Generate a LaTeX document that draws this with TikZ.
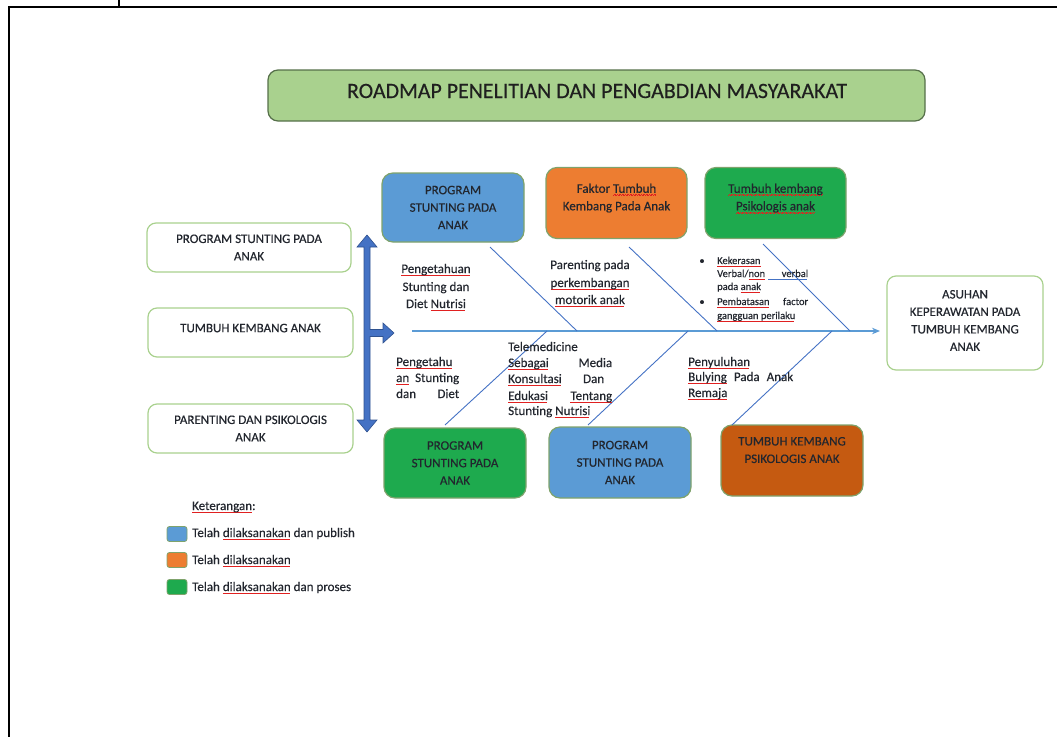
\documentclass[tikz,border=0pt]{standalone}
\usepackage{fontspec}
\setmainfont{Carlito}[FakeBold=0.35]
\usetikzlibrary{arrows.meta}
\definecolor{boxblue}{HTML}{5B9BD5}
\definecolor{boxorange}{HTML}{ED7D31}
\definecolor{boxgreen}{HTML}{1EAA4E}
\definecolor{boxbrown}{HTML}{C55A11}
\definecolor{titlegreen}{HTML}{A9D18E}
\definecolor{titleedge}{HTML}{56704A}
\definecolor{lightedge}{HTML}{A9D18E}
\definecolor{coloredge}{HTML}{7FA36C}
\definecolor{arrowblue}{HTML}{4472C4}
\definecolor{arrowedge}{HTML}{2F528F}
\definecolor{spineblue}{HTML}{5B9BD5}
\definecolor{txt}{HTML}{22262E}
\definecolor{sqred}{HTML}{E02020}
\definecolor{gblue}{HTML}{4472C4}
\newcommand\sqwave{\hbox{\rule{0.8pt}{0.5pt}\raisebox{0.8pt}{\rule{0.8pt}{0.5pt}}}}
\newcommand\sq[1]{\setbox0\hbox{#1}\leavevmode\rlap{\raisebox{-2.8pt}{\color{sqred}\hbox to\wd0{\leaders\sqwave\hfill}}}\box0\relax}
\tikzset{
  lbox/.style={draw=lightedge, line width=1.2pt, rounded corners=9pt, fill=white, align=center, text=txt, font=\fontsize{13}{17.5}\selectfont},
  cbox/.style={draw=coloredge, line width=1.2pt, rounded corners=11pt, align=center, text=txt, font=\fontsize{13}{17.5}\selectfont},
  bone/.style={draw=arrowblue, line width=0.9pt},
  spine/.style={draw=spineblue, line width=1.6pt},
  body/.style={text=txt, font=\fontsize{13}{16}\selectfont, inner sep=0pt},
  small/.style={text=txt, font=\fontsize{10.5}{14}\selectfont, inner sep=0pt},
  legsq/.style={draw=coloredge, line width=0.8pt, rounded corners=2.5pt, minimum width=20pt, minimum height=15pt, inner sep=0pt},
}
\begin{document}
\begin{tikzpicture}[x=1pt,y=-1pt]
\useasboundingbox (0,0) rectangle (1057,736);
% page frame
\draw[line width=2pt] (9,745) -- (9,7) -- (1065,7);
\draw[line width=2pt] (119,0) -- (119,7);

% title
\node[draw=titleedge, line width=1.2pt, fill=titlegreen, rounded corners=10pt, minimum width=657pt, minimum height=51pt] (titlebox) at (596.5,95.5) {};
\node[text=black!88, font=\fontsize{21.9}{26}\selectfont, inner sep=0pt] (title) at (597,91) {ROADMAP PENELITIAN DAN PENGABDIAN MASYARAKAT};

% left boxes
\node[lbox, minimum width=204pt, minimum height=49pt] (l1) at (249,247.5) {PROGRAM STUNTING PADA\\ANAK};
\node[lbox, minimum width=205pt, minimum height=49pt] (l2) at (250.5,332.5) {TUMBUH KEMBANG ANAK\\[-8.5pt]\mbox{}};
\node[lbox, minimum width=205pt, minimum height=49pt] (l3) at (250.5,428.5) {PARENTING DAN PSIKOLOGIS\\ANAK};

% double arrow with branch
\path[fill=arrowblue, draw=arrowedge, line width=0.6pt] (367,235) -- (377,247) -- (370,247) -- (370,329.5) -- (383,329.5) -- (383,323) -- (394,333) -- (383,343) -- (383,336.5) -- (370,336.5) -- (370,420) -- (377,420) -- (367,432) -- (357,420) -- (364,420) -- (364,247) -- (357,247) -- cycle;

% top boxes
\node[cbox, fill=boxblue, minimum width=142pt, minimum height=69pt] (t1) at (453,207.5) {PROGRAM\\STUNTING PADA\\ANAK};
\node[cbox, fill=boxorange, minimum width=141pt, minimum height=71pt] (t2) at (616.5,203) {Faktor \sq{Tumbuh}\\Kembang Pada Anak\\[-5.5pt]\mbox{}};
\node[cbox, fill=boxgreen, minimum width=141pt, minimum height=71pt] (t3) at (775.5,203) {\sq{Tumbuh kembang}\\\sq{Psikologis anak}\\[-5.5pt]\mbox{}};

% bottom boxes
\node[cbox, fill=boxgreen, minimum width=142pt, minimum height=70pt] (b1) at (455,463) {PROGRAM\\STUNTING PADA\\ANAK};
\node[cbox, fill=boxblue, minimum width=142pt, minimum height=71pt] (b2) at (620,462.5) {PROGRAM\\STUNTING PADA\\ANAK};
\node[cbox, fill=boxbrown, minimum width=142pt, minimum height=71pt] (b3) at (792,460.5) {TUMBUH KEMBANG\\PSIKOLOGIS ANAK\\[3.5pt]\mbox{}};

% right box
\node[lbox, minimum width=156pt, minimum height=94pt] (goal) at (965,323) {ASUHAN\\KEPERAWATAN PADA\\TUMBUH KEMBANG\\ANAK\\[-12.5pt]\mbox{}};

% spine
\coordinate (spL) at (412,331);
\coordinate (spR) at (880,331);
\draw[spine, -{Stealth[length=8pt,width=6.5pt]}] (spL) -- (spR);

% bones
\coordinate (t1a) at (490,247); \coordinate (t1b) at (577,331);
\coordinate (t2a) at (629,247); \coordinate (t2b) at (717,331);
\coordinate (t3a) at (763,244); \coordinate (t3b) at (850,331);
\coordinate (b1a) at (445,425); \coordinate (b1b) at (547,331);
\coordinate (b2a) at (588,425); \coordinate (b2b) at (688,331);
\coordinate (b3a) at (732,425); \coordinate (b3b) at (832,331);
\draw[bone] (t1a) -- (t1b);
\draw[bone] (t2a) -- (t2b);
\draw[bone] (t3a) -- (t3b);
\draw[bone] (b1a) -- (b1b);
\draw[bone] (b2a) -- (b2b);
\draw[bone] (b3a) -- (b3b);

% text: Pengetahuan block
\node[body, anchor=base] (p1) at (436,273) {\sq{Pengetahuan}};
\node[body, anchor=base] (p2) at (436,291) {Stunting dan};
\node[body, anchor=base] (p3) at (436,308) {Diet \sq{Nutrisi}};

% text: Parenting block
\node[body, anchor=base] (q1) at (590,269) {Parenting pada};
\node[body, anchor=base] (q2) at (590,287) {\sq{perkembangan}};
\node[body, anchor=base] (q3) at (590,304) {\sq{motorik anak}};

% text: bullet block
\node[small, anchor=base] (bu1) at (702,264) {•};
\node[small, anchor=base] (bu2) at (702,305) {•};
\node[small, anchor=base west] (k1) at (717,264) {\sq{Kekerasan}};
\node[small, anchor=base west] (k2) at (717,277) {\hbox to 91pt{Verbal/\sq{non}\hfill verbal}};
\node[small, anchor=base west] (k3) at (717,290) {pada \sq{anak}};
\node[small, anchor=base west] (k4) at (717,305) {\hbox to 91pt{\sq{Pembatasan}\hfill factor}};
\node[small, anchor=base west] (k5) at (717,319) {\sq{gangguan perilaku}};
\coordinate (gq1) at (768,279.5);
\coordinate (gq2) at (807,279.5);
\draw[gblue, line width=1pt] (gq1) -- (gq2);

% text: Pengetahu block
\node[body, anchor=base west] (r1) at (396,366) {\sq{Pengetahu}};
\node[body, anchor=base west] (r2) at (396,382) {\hbox to 63pt{\sq{an}\hfill Stunting}};
\node[body, anchor=base west] (r3) at (396,398) {\hbox to 63pt{dan\hfill Diet}};

% text: Telemedicine block
\node[body, anchor=base west] (s1) at (508,351) {Telemedicine};
\node[body, anchor=base west] (s2) at (508,367) {\hbox to 104pt{\sq{Sebagai}\hfill Media}};
\node[body, anchor=base west] (s3) at (508,383) {\hbox to 96pt{\sq{Konsultasi}\hfill Dan}};
\node[body, anchor=base west] (s4) at (508,400) {\hbox to 104pt{\sq{Edukasi}\hfill\sq{Tentang}}};
\node[body, anchor=base west] (s5) at (508,415) {Stunting \sq{Nutrisi}};

% text: Penyuluhan block
\node[body, anchor=base west] (u1) at (688,366) {\sq{Penyuluhan}};
\node[body, anchor=base west] (u2) at (688,381) {\hbox to 105pt{\sq{Bulying}\hfill Pada\hfill Anak}};
\node[body, anchor=base west] (u3) at (688,397) {\sq{Remaja}};

% legend
\node[body, anchor=base west] (leg) at (192,510) {\sq{Keterangan}:};
\node[legsq, fill=boxblue] (sq1) at (177,534) {};
\node[legsq, fill=boxorange] (sq2) at (177,560) {};
\node[legsq, fill=boxgreen] (sq3) at (177,587) {};
\node[body, anchor=base west] (lg1) at (192,537) {Telah \sq{dilaksanakan} dan publish};
\node[body, anchor=base west] (lg2) at (192,564) {Telah \sq{dilaksanakan}};
\node[body, anchor=base west] (lg3) at (192,591) {Telah \sq{dilaksanakan} dan proses};
\end{tikzpicture}
\end{document}
